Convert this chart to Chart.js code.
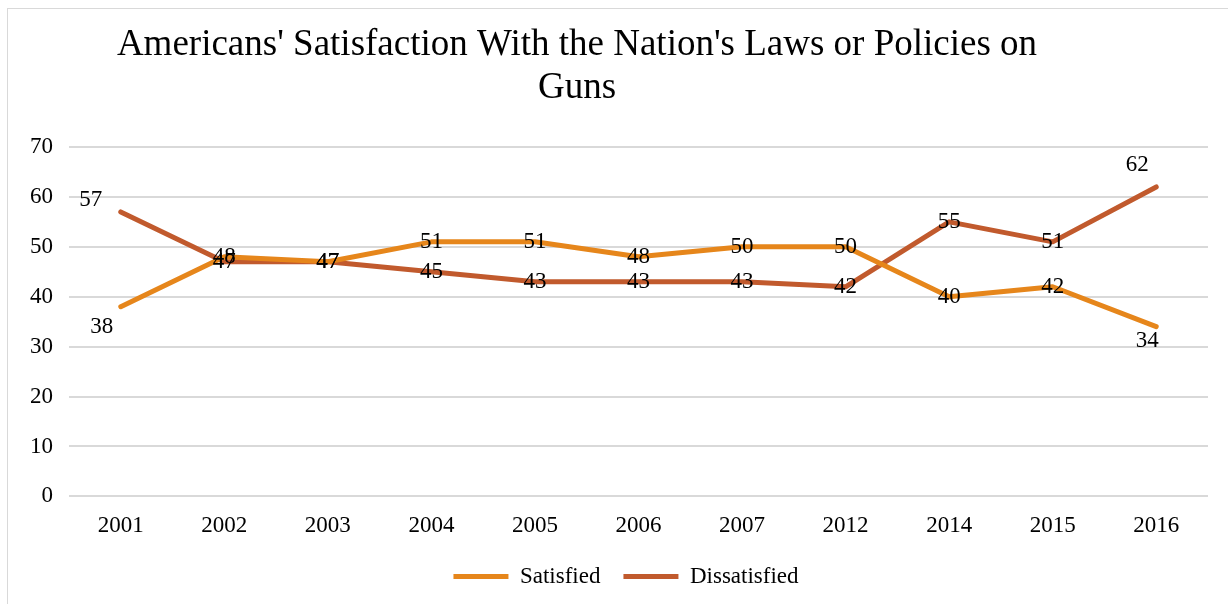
<!DOCTYPE html>
<html>
<head>
<meta charset="utf-8">
<script src="https://cdn.jsdelivr.net/npm/chart.js@4.4.1/dist/chart.umd.min.js"></script>
<style>
  html, body { margin: 0; padding: 0; background: #fff; overflow: hidden; }
  #wrap { position: relative; width: 1228px; height: 604px; }
  #frame { position: absolute; left: 7px; top: 8px; width: 1300px; height: 700px;
           border: 1px solid #d9d9d9; pointer-events: none; }
</style>
</head>
<body>
<div id="wrap">
  <canvas id="gunsChart" width="1228" height="604"></canvas>
  <div id="frame"></div>
</div>
<script>
var titleLines = ["Americans' Satisfaction With the Nation's Laws or Policies on", "Guns"];
var years = ["2001", "2002", "2003", "2004", "2005", "2006", "2007", "2012", "2014", "2015", "2016"];
var satisfied = [38, 48, 47, 51, 51, 48, 50, 50, 40, 42, 34];
var dissatisfied = [57, 47, 47, 45, 43, 43, 43, 42, 55, 51, 62];

// label nudges (px) for the end points, everything else sits on the point
var satisfiedLabelShift = { 0: [-19, 20], 10: [-9, 14] };
var dissatisfiedLabelShift = { 0: [-30, -12], 10: [-19, -22] };

var serif = "'Liberation Serif', 'Times New Roman', serif";

var titlePlugin = {
    id: 'titleText',
    afterDraw: function (chart) {
        var ctx = chart.ctx;
        ctx.save();
        ctx.fillStyle = '#000';
        ctx.font = '37px ' + serif;
        ctx.textAlign = 'center';
        ctx.textBaseline = 'middle';
        ctx.fillText(titleLines[0], 577, 45);
        ctx.fillText(titleLines[1], 577, 88);
        ctx.restore();
    }
};

// nudge the legend a bit up and right of where the layout puts it
var legendNudge = {
    id: 'legendNudge',
    afterLayout: function (chart) {
        var lg = chart.legend;
        lg.top -= 6; lg.bottom -= 6;
        lg.left += 15; lg.right += 15;
    }
};

var valueLabels = {
    id: 'valueLabels',
    afterDatasetsDraw: function (chart) {
        var ctx = chart.ctx;
        ctx.save();
        ctx.fillStyle = '#000';
        ctx.font = '23px ' + serif;
        ctx.textAlign = 'center';
        ctx.textBaseline = 'middle';
        chart.data.datasets.forEach(function (ds, i) {
            var meta = chart.getDatasetMeta(i);
            meta.data.forEach(function (pt, j) {
                var shift = (ds.labelShift && ds.labelShift[j]) || [0, 0];
                ctx.fillText(ds.data[j], pt.x + shift[0], pt.y + shift[1]);
            });
        });
        ctx.restore();
    }
};

var ctx = document.getElementById('gunsChart').getContext('2d');

var chart = new Chart(ctx, {
    type: 'line',
    data: {
        labels: years,
        datasets: [
            {
                label: "Satisfied",
                data: satisfied,
                borderColor: "#e6861b",
                backgroundColor: "#e6861b",
                borderWidth: 5,
                borderCapStyle: 'round',
                borderJoinStyle: 'round',
                pointRadius: 0,
                tension: 0,
                labelShift: satisfiedLabelShift
            },
            {
                label: "Dissatisfied",
                data: dissatisfied,
                borderColor: "#c15a2d",
                backgroundColor: "#c15a2d",
                borderWidth: 5,
                borderCapStyle: 'round',
                borderJoinStyle: 'round',
                pointRadius: 0,
                tension: 0,
                labelShift: dissatisfiedLabelShift
            }
        ]
    },
    options: {
        responsive: false,
        animation: false,
        layout: { padding: { top: 147, left: 14, right: 20, bottom: 0 } },
        plugins: {
            title: { display: false },
            tooltip: { enabled: false },
            legend: {
                position: 'bottom',
                labels: {
                    usePointStyle: true,
                    pointStyle: 'line',
                    pointStyleWidth: 55,
                    padding: 23,
                    color: '#000',
                    font: { family: serif, size: 23 }
                }
            }
        },
        scales: {
            x: {
                offset: true,
                grid: { display: false },
                border: { display: false },
                ticks: {
                    color: '#000',
                    padding: 8,
                    font: { family: serif, size: 23 }
                }
            },
            y: {
                min: 0,
                max: 70,
                grid: { color: '#d9d9d9', lineWidth: 2, drawTicks: false },
                border: { display: false },
                ticks: {
                    stepSize: 10,
                    color: '#000',
                    padding: 16,
                    font: { family: serif, size: 23 }
                }
            }
        }
    },
    plugins: [titlePlugin, valueLabels, legendNudge]
});
</script>
</body>
</html>
